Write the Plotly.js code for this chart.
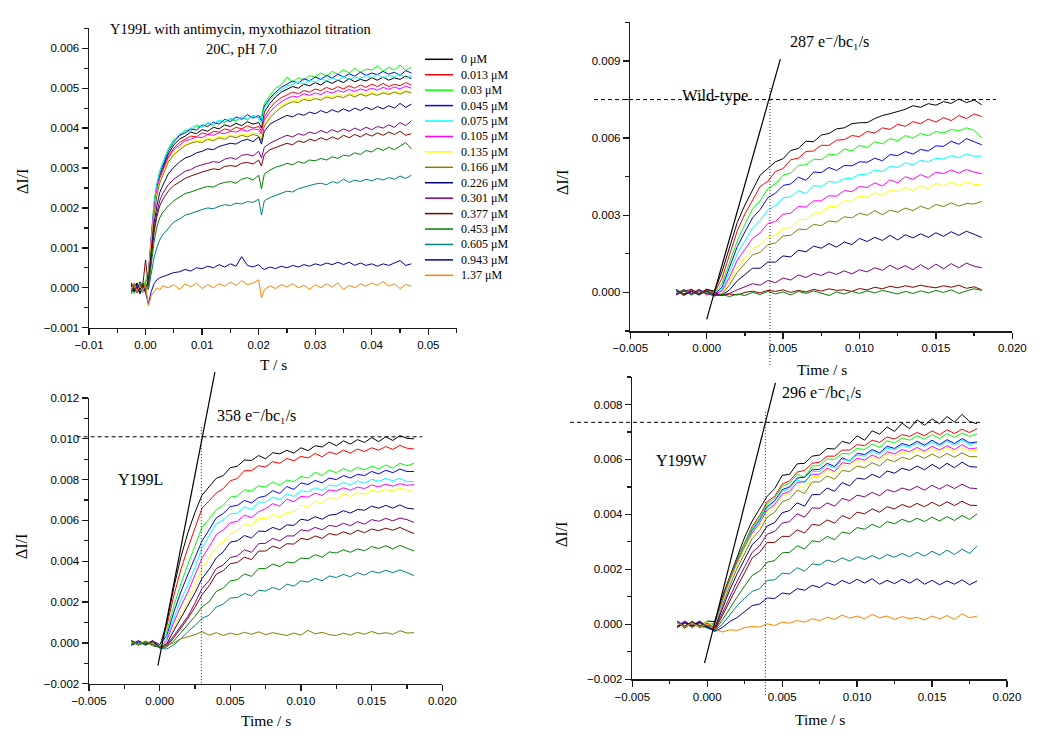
<!DOCTYPE html>
<html>
<head>
<meta charset="utf-8">
<script src="https://cdn.plot.ly/plotly-3.0.1.min.js"></script>
<style>html,body{margin:0;padding:0;background:#fff}#chart{width:1050px;height:745px}</style>
</head>
<body>
<div id="chart"></div>
<script>
// ---------------- DATA (ΔI/I values are listed in units of 1e-5) ----------------
const UNIT = 1e-5;

// Panel 1: Y199L with antimycin, myxothiazol titration
const time1 = [-0.0025,-0.002,-0.0015,-0.001,-0.0005,0,0.0005,0.001,0.0015,0.002,0.0025,0.003,
  0.004,0.005,0.006,0.007,0.008,0.009,0.010,0.011,0.012,0.013,0.014,0.015,0.016,0.017,0.018,0.019,0.020,
  0.0205,0.021,0.022,0.023,0.024,0.025,0.026,0.027,0.028,0.029,0.030,0.031,0.032,0.033,0.034,0.035,
  0.036,0.037,0.038,0.039,0.040,0.041,0.042,0.043,0.044,0.045,0.046,0.047];
const myxLabels = ['0 μM','0.013 μM','0.03 μM','0.045 μM','0.075 μM','0.105 μM','0.135 μM','0.166 μM',
  '0.226 μM','0.301 μM','0.377 μM','0.453 μM','0.605 μM','0.943 μM','1.37 μM'];
const myx_0     = [-8,12,0,-14,6,8, 25,120,195,248,280,298, 335,358,372,380,390,386,396,392,402,398,408,404,412,406,416,410,414, 400, 440,462,478,490,498,504,500,510,506,514,508,518,512,520,514,524,516,522,518,526,520,528,520,526,522,530,524];
const myx_0013  = [10,-5,-12,8,-3,14, 28,122,192,242,274,292, 328,350,364,372,380,378,388,384,392,390,398,394,402,398,406,400,404, 392, 428,450,466,476,484,490,486,494,490,498,494,502,496,504,498,506,500,508,502,510,504,512,504,510,506,514,508];
const myx_003   = [10,-15,5,12,-8,20, 40,140,215,262,292,312, 348,372,380,395,392,405,402,412,408,418,414,422,418,428,420,432,426, 430, 462,482,500,508,528,515,526,520,532,528,538,530,542,535,546,538,550,540,548,545,556,542,552,546,558,545,552];
const myx_0045  = [-12,8,-5,15,3,-10, 30,125,205,255,288,305, 342,365,382,388,398,395,408,404,415,410,422,416,428,422,434,425,432, 418, 455,475,490,502,510,518,512,524,518,528,522,532,525,535,528,536,530,540,532,538,534,542,535,540,532,544,538];
const myx_0075  = [5,-10,12,-6,10,0, 35,135,210,258,290,310, 345,368,385,392,400,408,404,414,410,420,416,425,420,428,424,430,425, 412, 450,470,486,496,505,510,516,510,520,515,524,518,526,520,530,522,528,524,532,526,534,526,532,528,536,525,530];
const myx_0105  = [-5,10,6,-10,12,-4, 30,128,198,246,276,292, 325,346,358,368,372,378,376,384,382,388,386,392,390,396,392,398,396, 385, 420,440,455,466,474,480,478,486,482,488,484,492,488,494,490,497,492,498,494,500,495,502,497,503,498,505,500];
const myx_0135  = [8,-8,14,2,-10,6, 22,115,185,235,266,284, 318,338,350,360,364,370,368,375,372,380,377,384,380,386,383,388,386, 372, 410,430,445,456,464,470,468,476,472,478,475,482,478,484,480,487,482,488,484,490,485,492,486,492,488,494,490];
const myx_0166  = [-10,5,-6,12,0,-8, 20,110,180,230,262,280, 314,334,346,356,362,366,364,372,368,376,372,380,376,382,378,384,380, 368, 405,426,440,452,460,466,464,472,468,474,470,478,474,480,476,484,478,485,480,486,482,488,484,490,485,492,488];
const myx_0226  = [12,-10,4,-15,8,2, 15,95,160,205,238,255, 285,302,315,325,330,338,342,348,346,354,358,362,360,368,372,366,378, 360, 392,410,418,426,432,428,436,432,440,436,444,438,446,440,448,442,450,444,452,446,454,448,456,450,462,452,460];
const myx_0301  = [-6,10,-12,5,12,-5, 10,85,145,188,218,235, 258,272,282,292,296,304,308,312,316,314,322,326,322,332,334,330,342, 325, 352,362,370,376,382,378,386,382,390,386,394,388,396,390,398,392,400,394,402,396,404,400,408,402,414,406,418];
const myx_0377  = [8,-4,10,-10,5,70, 5,80,138,178,205,220, 242,256,266,274,280,286,290,294,298,296,304,306,304,312,314,310,320, 305, 334,346,352,358,362,358,368,364,372,368,376,370,378,372,382,376,384,378,386,380,388,382,390,384,392,382,386];
const myx_0453  = [-15,5,12,-8,10,0, 0,65,115,152,175,188, 205,218,228,236,240,246,250,254,252,260,264,266,262,272,276,270,282, 248, 285,295,302,306,312,308,316,312,320,318,324,320,328,324,332,330,338,334,344,340,350,344,352,346,356,364,348];
const myx_0605  = [5,-10,8,-5,-12,4, -5,40,75,100,120,132, 150,165,172,182,186,192,196,200,198,204,208,206,212,210,216,214,222, 182, 218,226,232,236,242,240,248,252,256,260,262,258,266,262,272,264,270,266,272,268,274,270,276,272,280,274,282];
const myx_0943  = [8,-10,12,-4,6,-12, -40,-10,10,20,25,28, 32,38,40,46,42,50,48,54,50,58,52,60,54,78,56,52,58, 50, 46,52,48,54,50,56,52,58,54,60,56,62,58,64,58,64,56,62,56,60,54,60,56,62,68,56,60];
const myx_137   = [-5,12,-10,6,-8,10, -45,-20,-10,0,-5,5, 0,8,-4,10,2,12,-2,8,0,10,4,14,6,18,8,12,20, -25, -5,5,-2,8,2,10,0,6,-4,8,0,10,2,12,-4,6,0,10,4,12,6,16,4,10,-2,8,4];

// Panels 2-4 share one time base
const time2 = [-0.002,-0.0015,-0.001,-0.0005,0,0.0005,0.001,0.0015,0.002,0.0025,0.003,0.0035,0.004,0.0045,
  0.005,0.0055,0.006,0.0065,0.007,0.0075,0.008,0.0085,0.009,0.0095,0.010,0.0105,0.011,0.0115,0.012,0.0125,
  0.013,0.0135,0.014,0.0145,0.015,0.0155,0.016,0.0165,0.017,0.0175,0.018];

// Panel 2: wild-type
const wt_1  = [10,-12,5,-8,12, 5,80,180,272,340, 398,456,482,508,520, 552,560,588,586,612, 618,636,640,656,660, 660,676,688,695,704, 712,726,720,734,728, 742,735,752,738,748, 730];
const wt_2  = [-8,10,-4,12,-6, 0,55,150,240,305, 360,412,432,470,482, 516,522,548,550,572, 572,592,594,610,606, 626,620,640,634,654, 646,664,656,674,662, 680,668,688,676,694, 684];
const wt_3  = [5,-10,12,-5,8, -5,35,120,200,265, 325,356,404,422,456, 464,494,496,518,516, 538,534,558,550,572, 564,586,578,598,590, 610,600,618,610,626, 620,634,628,640,630, 600];
const wt_4  = [-10,6,-6,10,-2, -8,20,100,178,235, 290,322,368,386,416, 422,448,436,468,466, 486,474,494,492,508, 506,522,512,536,532, 548,538,556,550,570, 568,588,576,598,586, 574];
const wt_5  = [8,-6,10,-10,4, -10,10,80,150,200, 250,280,320,338,368, 372,396,384,416,412, 432,428,442,444,458, 460,476,470,490,486, 504,496,514,508,522, 518,532,524,538,530, 530];
const wt_6  = [-6,12,-2,8,-10, -6,5,60,125,168, 210,232,268,276,304, 308,334,332,356,356, 376,374,396,392,412, 408,426,414,438,426, 450,440,458,446,468, 462,476,464,478,468, 462];
const wt_7  = [4,-8,8,-12,6, -12,-2,45,100,135, 170,186,218,222,250, 252,282,284,308,310, 334,334,356,354,374, 370,388,376,398,392, 408,396,416,404,424, 414,428,416,430,420, 418];
const wt_8  = [-4,10,-8,6,0, -10,-6,30,78,110, 146,156,186,192,220, 222,246,244,264,260, 278,274,294,290,308, 300,318,302,320,312, 328,318,336,324,342, 334,348,336,346,344, 354];
const wt_9  = [12,-6,4,-10,8, -12,-10,10,45,68, 94,94,118,118,142, 138,164,158,180,172, 190,176,196,186,210, 198,214,202,222,204, 224,212,228,214,232, 218,236,222,238,226, 214];
const wt_10 = [-8,5,12,-6,4, -8,-10,-4,10,22, 34,28,46,38,56, 48,68,58,74,66, 80,70,84,72,88, 80,96,86,106,90, 104,88,108,90,110, 92,112,96,114,102, 96];
const wt_11 = [6,-10,10,-4,12, 0,-12,-6,-10,0, 5,-2,8,4,10, 0,8,2,12,5, 14,8,10,4,15, 10,20,14,24,18, 26,20,28,22,18, 26,20,28,16,22, 10];
const wt_12 = [-5,8,-10,6,-4, -14,-8,-16,-6,-12, 0,-8,4,-6,2, -10,4,-4,6,-2, -12,2,-6,4,-4, 6,-2,8,0,-6, 4,-4,6,-2,8, 0,10,-4,6,14, 8];

// Panel 3: Y199L
const l_1  = [12,-8,6,-14,-20, 100,270,420,540,640, 724,764,806,820,858, 866,896,894,918,902, 932,926,944,930,956, 942,966,960,984,966, 990,974,996,982,1006, 986,1010,992,1016,1002, 1000];
const l_2  = [-6,10,-10,4,-16, 80,230,360,465,565, 660,696,734,756,794, 806,844,844,868,862, 888,880,904,892,914, 906,928,912,936,924, 944,930,950,938,956, 944,962,948,968,954, 950];
const l_3  = [8,-12,4,-8,-12, 55,180,290,385,480, 566,606,652,674,714, 720,750,744,770,764, 788,772,798,790,816, 808,836,820,846,834, 854,840,860,848,866, 852,872,856,880,868, 880];
const l_4  = [-10,6,-4,10,-8, 35,150,250,335,420, 500,554,612,634,668, 674,698,686,712,720, 746,732,766,752,784, 776,796,784,808,800, 820,808,826,820,840, 828,846,834,852,840, 840];
const l_5  = [4,-10,8,-6,-14, 20,120,210,285,370, 466,524,584,602,632, 636,666,654,690,690, 714,702,730,718,746, 740,760,748,774,768, 786,774,794,782,802, 792,806,794,806,790, 790];
const l_6  = [-8,12,-6,6,-18, 10,100,180,250,330, 416,470,530,554,588, 596,626,614,642,658, 682,670,704,692,718, 714,734,722,750,744, 760,748,764,756,774, 764,778,768,780,772, 776];
const l_7  = [6,-8,10,-12,-14, 0,70,140,200,280, 366,414,468,494,536, 550,584,572,612,608, 628,616,640,642,676, 664,696,684,714,702, 730,718,736,728,748, 740,752,744,758,750, 740];
const l_8  = [-12,4,-8,8,-20, -5,60,120,180,245, 316,360,416,446,494, 500,526,514,548,546, 566,554,578,576,606, 600,618,606,626,630, 648,636,654,650,670, 660,674,660,676,660, 656];
const l_9  = [8,-10,4,-6,-22, -10,35,85,130,195, 266,306,364,382,418, 426,456,444,486,488, 512,500,524,524,554, 548,566,554,576,570, 586,574,594,582,604, 596,610,598,612,604, 590];
const l_10 = [-6,8,-10,10,-18, -15,25,70,120,175, 236,280,336,354,388, 394,420,408,450,450, 474,462,486,484,512, 506,524,512,536,528, 544,532,552,540,558, 550,562,552,566,550, 536];
const l_11 = [10,-6,6,-10,-24, -20,10,50,90,130, 176,202,252,268,304, 310,338,326,364,364, 386,374,396,392,416, 412,432,420,446,440, 456,444,460,452,472, 462,476,460,478,462, 450];
const l_12 = [-8,6,-12,4,-26, -30,-10,20,55,85, 120,136,176,190,220, 222,242,230,258,254, 272,260,288,278,304, 298,316,304,328,320, 336,324,344,332,352, 342,356,344,358,342, 330];
const l_13 = [4,-10,8,-6,-16, -12,0,20,30,40, 55,38,50,36,48, 40,52,42,54,40, 50,44,36,48,38, 62,44,52,40,36, 48,38,52,42,56, 44,50,42,60,48, 50];

// Panel 4: Y199W
const w_1  = [10,-14,8,-6,12, 10,100,175,245,318, 376,420,466,494,542, 546,584,586,612,616, 640,638,666,658,686, 670,704,692,718,702, 732,712,744,724,748, 730,756,736,764,738, 730];
const w_2  = [-8,10,-4,12,-10, 5,90,170,238,300, 356,396,446,466,510, 522,554,560,586,590, 612,612,634,634,654, 650,670,662,682,674, 690,684,698,686,704, 690,708,694,710,698, 712];
const w_3  = [6,-8,12,-10,4, 0,85,165,232,295, 350,388,438,460,502, 514,546,534,576,578, 602,600,622,620,640, 636,656,644,668,660, 678,670,686,674,690, 676,694,680,696,684, 694];
const w_4  = [-12,6,-6,10,-8, -5,80,160,228,288, 342,380,428,450,490, 500,532,536,562,564, 586,574,606,594,622, 618,636,624,648,640, 658,650,666,652,670, 654,672,658,676,660, 664];
const w_5  = [8,-6,10,-12,6, -8,78,158,225,285, 338,376,424,446,484, 494,526,514,556,556, 580,568,600,596,616, 612,630,618,642,634, 652,644,660,646,664, 648,666,652,670,654, 660];
const w_6  = [-6,12,-8,6,-4, -10,75,155,220,280, 332,368,416,436,474, 484,516,520,546,546, 568,556,588,584,604, 598,616,604,628,620, 636,628,644,630,648, 634,650,636,654,638, 642];
const w_7  = [4,-10,6,-6,10, -12,72,152,218,276, 326,362,410,430,468, 478,508,496,538,538, 560,548,580,576,596, 590,608,596,618,612, 628,620,636,624,640, 626,642,628,644,630, 634];
const w_8  = [-10,4,-12,8,-6, -14,65,140,205,260, 312,342,390,408,446, 456,488,476,518,518, 540,528,560,556,576, 570,588,576,600,592, 608,600,616,604,620, 606,622,608,624,610, 610];
const w_9  = [12,-6,8,-12,4, -16,55,125,185,238, 290,316,358,370,406, 414,442,430,472,472, 496,484,516,504,532, 528,546,534,558,550, 568,560,576,562,582, 566,586,570,590,574, 572];
const w_10 = [-8,10,-4,6,-12, -18,40,100,158,210, 262,286,328,338,368, 374,402,390,424,422, 442,430,458,450,470, 464,480,468,490,482, 496,488,502,488,506, 492,508,494,510,496, 494];
const w_11 = [6,-8,10,-4,-10, -20,30,85,138,188, 242,262,298,298,320, 320,344,332,364,360, 380,368,396,384,408, 402,420,408,428,420, 436,426,440,428,444, 430,446,432,448,434, 432];
const w_12 = [-6,8,-10,4,-14, -22,15,60,100,140, 178,194,226,232,260, 262,286,274,304,300, 320,308,336,330,352, 346,364,352,374,366, 382,372,386,374,390, 376,392,378,396,382, 402];
const w_13 = [8,-10,6,-8,-12, -24,0,35,68,95, 120,130,160,162,186, 184,206,194,220,216, 234,226,242,230,246, 236,250,238,254,244, 258,246,262,248,266, 252,270,254,274,258, 284];
const w_14 = [-10,6,-4,10,-8, -26,-12,10,25,45, 68,74,96,94,114, 110,130,124,142,134, 152,142,160,148,164, 150,166,146,160,148, 164,150,166,146,160, 144,158,146,162,144, 158];
const w_15 = [6,-8,4,-10,2, -16,-28,-20,-22,-12, -8,-10,2,-4,8, 4,14,8,20,14, 26,18,34,22,30, 20,36,24,30,18, 28,20,26,16,30, 20,32,18,38,24, 30];

// Reference lines: [wild-type, Y199L, Y199W]
const rateLabels  = ['287 e⁻/bc₁/s', '358 e⁻/bc₁/s', '296 e⁻/bc₁/s'];
const plateau     = [0.0075, 0.0101, 0.00735];
const markTime    = [0.00414, 0.00295, 0.00388];
const markTop     = [0.00795, 0.01057, 0.00772];
const slopeX0     = [0.0, -0.00012, -0.00018];
const slopeY0     = [-0.00105, -0.00111, -0.00141];
const slopeX1     = [0.00482, 0.00391, 0.00455];
const slopeY1     = [0.00907, 0.01327, 0.00879];

// ---------------- STYLE ----------------
const C = {k:'#000000', r:'#FF0000', g:'#00FF00', b:'#0000FF', c:'#00FFFF', m:'#FF00FF', y:'#FFFF00',
  ol:'#808000', nv:'#000080', pu:'#800080', wi:'#800000', dg:'#008000', te:'#008080', rb:'#0000A0', or:'#FF8000'};
const W = 1050, H = 745;
const SANS = "'Liberation Sans', Arial, sans-serif";
const SERIF = "'Liberation Serif', 'Times New Roman', 'DejaVu Serif', serif";

const series1 = [myx_0,myx_0013,myx_003,myx_0045,myx_0075,myx_0105,myx_0135,myx_0166,myx_0226,myx_0301,myx_0377,myx_0453,myx_0605,myx_0943,myx_137];
const colors1 = [C.k,C.r,C.g,C.b,C.c,C.m,C.y,C.ol,C.nv,C.pu,C.wi,C.dg,C.te,C.rb,C.or];
const series2 = [wt_1,wt_2,wt_3,wt_4,wt_5,wt_6,wt_7,wt_8,wt_9,wt_10,wt_11,wt_12];
const colors2 = [C.k,C.r,C.g,C.b,C.c,C.m,C.y,C.ol,C.nv,C.pu,C.wi,C.dg];
const series3 = [l_1,l_2,l_3,l_4,l_5,l_6,l_7,l_8,l_9,l_10,l_11,l_12,l_13];
const colors3 = [C.k,C.r,C.g,C.b,C.c,C.m,C.y,C.nv,C.pu,C.wi,C.dg,C.te,C.ol];
const series4 = [w_1,w_2,w_3,w_4,w_5,w_6,w_7,w_8,w_9,w_10,w_11,w_12,w_13,w_14,w_15];
const colors4 = [C.k,C.r,C.g,C.b,C.c,C.m,C.y,C.ol,C.nv,C.pu,C.wi,C.dg,C.te,C.rb,C.or];

const traces = [];
function addPanel(t, series, colors, xa, ya) {
  series.forEach((vals, i) => traces.push({
    x: t, y: vals.map(v => v * UNIT), type: 'scatter', mode: 'lines',
    line: {color: colors[i], width: 1}, xaxis: xa, yaxis: ya, showlegend: false, hoverinfo: 'skip'
  }));
}
addPanel(time1, series1, colors1, 'x', 'y');
addPanel(time2, series2, colors2, 'x2', 'y2');
addPanel(time2, series3, colors3, 'x3', 'y3');
addPanel(time2, series4, colors4, 'x4', 'y4');

function axis(domain, range, dtick, minor, fmt, anchor) {
  return {domain, range, dtick, tick0: 0, tickformat: fmt, anchor,
    showline: true, linecolor: '#1a1a1a', linewidth: 1.5, mirror: false,
    ticks: 'outside', ticklen: 6, tickwidth: 1.3, tickcolor: '#1a1a1a',
    minor: {ticks: 'outside', ticklen: 3.5, tickwidth: 1.2, tickcolor: '#1a1a1a', dtick: minor, tick0: 0, showgrid: false},
    showgrid: false, zeroline: false, fixedrange: true,
    tickfont: {family: SANS, size: 11.5, color: '#000'}};
}
const px = v => v / W, py = v => 1 - v / H;

const ranges = {
  x: [-0.01, 0.055], y: [-0.001, 0.0065],
  x2: [-0.005, 0.020], y2: [-0.0015, 0.0105],
  x3: [-0.005, 0.020], y3: [-0.002, 0.012],
  x4: [-0.005, 0.020], y4: [-0.002, 0.009]
};

const layout = {
  width: W, height: H, autosize: false,
  margin: {l: 0, r: 0, t: 0, b: 0, pad: 0},
  paper_bgcolor: '#fff', plot_bgcolor: 'rgba(0,0,0,0)',
  showlegend: false,
  xaxis:  axis([px(89), px(456.6)], ranges.x, 0.01, 0.005, '.2f', 'y'),
  yaxis:  axis([py(327.7), py(28.3)], ranges.y, 0.001, 0.0005, '.3f', 'x'),
  xaxis2: axis([px(630.3), px(1012.3)], ranges.x2, 0.005, 0.0025, '.3f', 'y2'),
  yaxis2: axis([py(331), py(22.4)], ranges.y2, 0.003, 0.0015, '.3f', 'x2'),
  xaxis3: axis([px(89), px(442.3)], ranges.x3, 0.005, 0.0025, '.3f', 'y3'),
  yaxis3: axis([py(683.7), py(398)], ranges.y3, 0.002, 0.001, '.3f', 'x3'),
  xaxis4: axis([px(632.3), px(1007)], ranges.x4, 0.005, 0.0025, '.3f', 'y4'),
  yaxis4: axis([py(679.3), py(377)], ranges.y4, 0.002, 0.001, '.3f', 'x4'),
  shapes: [], annotations: []
};

function ann(text, x, y, size, extra) {
  return Object.assign({text, x: px(x), y: py(y), xref: 'paper', yref: 'paper', showarrow: false,
    xanchor: 'center', yanchor: 'middle', font: {family: SERIF, size, color: '#000'}}, extra || {});
}
const A = layout.annotations;
// panel 1 titles
A.push(ann('Y199L with antimycin, myxothiazol titration', 241, 29.5, 14.5));
A.push(ann('20C, pH 7.0', 241, 48.5, 14.5));
// axis titles
A.push(ann('ΔI/I', 22, 182, 16, {textangle: -90}));
A.push(ann('T / s', 273, 364, 15.5));
A.push(ann('ΔI/I', 562, 183, 16, {textangle: -90}));
A.push(ann('Time / s', 822, 370, 15.5));
A.push(ann('ΔI/I', 21, 547, 16, {textangle: -90}));
A.push(ann('Time / s', 266, 720, 15.5));
A.push(ann('ΔI/I', 561, 535, 16, {textangle: -90}));
A.push(ann('Time / s', 820, 719, 15.5));
// panel labels
A.push(ann(rateLabels[0], 829, 41, 16));
A.push(ann('Wild-type', 715, 95, 16.5));
A.push(ann(rateLabels[1], 256.5, 415, 16));
A.push(ann('Y199L', 140.5, 479, 16));
A.push(ann(rateLabels[2], 821, 392, 16));
A.push(ann('Y199W', 682, 460.5, 16));

// manual legend for panel 1
myxLabels.forEach((lab, i) => {
  const yy = 59.3 + i * 15.43;
  layout.shapes.push({type: 'line', xref: 'paper', yref: 'paper', x0: px(425), x1: px(453), y0: py(yy), y1: py(yy),
    line: {color: colors1[i], width: 1.5}});
  A.push(ann(lab, 459, yy, 12, {xanchor: 'left'}));
});

// reference lines in panels 2-4
const pan = [['x2','y2'], ['x3','y3'], ['x4','y4']];
const dashX = [[-0.095, 0.957], [-0.035, 0.943], [-0.166, 0.9325]];
const dotBottom = [-0.113, 0.0, -0.0586];
pan.forEach(([xa, ya], k) => {
  const yr = ranges[ya];
  const dom = v => (v - yr[0]) / (yr[1] - yr[0]);
  layout.shapes.push({type: 'line', xref: xa + ' domain', yref: ya, x0: dashX[k][0], x1: dashX[k][1],
    y0: plateau[k], y1: plateau[k], line: {color: '#000', width: 1, dash: '4px,3px'}});
  layout.shapes.push({type: 'line', xref: xa, yref: ya + ' domain', x0: markTime[k], x1: markTime[k],
    y0: dom(markTop[k]), y1: dotBottom[k], line: {color: '#222', width: 1, dash: '1px,2px'}});
  layout.shapes.push({type: 'line', xref: xa, yref: ya + ' domain', x0: slopeX0[k], x1: slopeX1[k],
    y0: dom(slopeY0[k]), y1: dom(slopeY1[k]), line: {color: '#000', width: 1.2}});
});

Plotly.newPlot('chart', traces, layout, {staticPlot: true, displayModeBar: false});
</script>
</body>
</html>
